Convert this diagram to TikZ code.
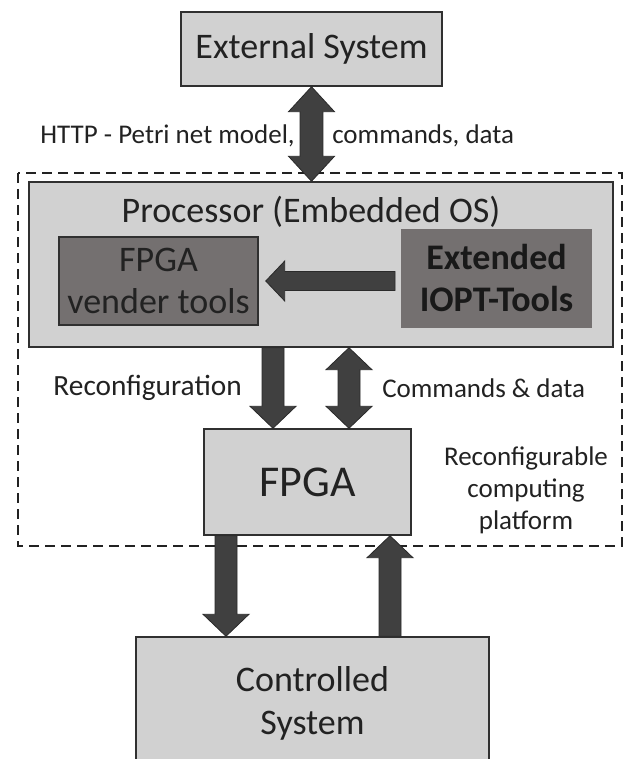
\documentclass[tikz,border=0pt]{standalone}
\usepackage{fontspec}
\setmainfont{Carlito}
\usetikzlibrary{calc}
\definecolor{boxfill}{HTML}{D1D1D1}
\definecolor{darkfill}{HTML}{747070}
\definecolor{arrfill}{HTML}{404040}
\definecolor{arrline}{HTML}{2A2A2A}
\definecolor{edge}{HTML}{303030}
\definecolor{ink}{HTML}{222222}
\newcommand\pxu{0.75pt}
% single block arrow: shaft half width, head half width, head length, from, to
\newcommand\blkarrow[5]{%
  \coordinate (ba-h) at ($(#5)!#3!(#4)$);
  \filldraw[arrowsty] ($(#4)!#1!90:(#5)$) -- ($(ba-h)!#1!90:(#5)$) -- ($(ba-h)!#2!90:(#5)$) -- (#5)
    -- ($(ba-h)!#2!-90:(#5)$) -- ($(ba-h)!#1!-90:(#5)$) -- ($(#4)!#1!-90:(#5)$) -- cycle;}
% double block arrow
\newcommand\dblarrow[5]{%
  \coordinate (da-a) at ($(#4)!#3!(#5)$);
  \coordinate (da-b) at ($(#5)!#3!(#4)$);
  \filldraw[arrowsty] (#4) -- ($(da-a)!#2!90:(#5)$) -- ($(da-a)!#1!90:(#5)$) -- ($(da-b)!#1!90:(#5)$)
    -- ($(da-b)!#2!90:(#5)$) -- (#5) -- ($(da-b)!#2!-90:(#5)$) -- ($(da-b)!#1!-90:(#5)$)
    -- ($(da-a)!#1!-90:(#5)$) -- ($(da-a)!#2!-90:(#5)$) -- cycle;}
\tikzset{
  arrowsty/.style={fill=arrfill, draw=arrline, line width=0.6pt, line join=miter},
  box/.style={draw=edge, fill=boxfill, line width=1.1pt, inner sep=0pt, text=ink, align=center,
    font=\fontsize{27}{31.5}\selectfont},
  darkbox/.style={box, fill=darkfill},
  lbl/.style={inner sep=0pt, text=ink, align=center, font=\fontsize{20.25}{24}\selectfont},
}
\begin{document}
\begin{tikzpicture}[x=0.75pt, y=-0.75pt]
\useasboundingbox (0,0) rectangle (626,759);
\clip (0,0) rectangle (626,759);
\fill[white] (0,0) rectangle (626,759);
% nodes
\node[box, minimum width=261*\pxu, minimum height=74*\pxu] (extsys) at (311.5,49) {External System};
\draw[dashed, dash pattern=on 7.5pt off 4.5pt, line width=1.9pt, draw=ink] (18,173) rectangle (622,546);
\node[box, minimum width=584*\pxu, minimum height=165*\pxu] (proc) at (321,264.5) {};
\node[lbl, font=\fontsize{27}{31.5}\selectfont] (proctitle) at (311,212) {Processor (Embedded OS)};
\node[darkbox, minimum width=199*\pxu, minimum height=88*\pxu] (vend) at (158.5,281) {FPGA\\vender tools};
\node[darkbox, draw=darkfill, minimum width=189*\pxu, minimum height=97*\pxu, font=\fontsize{27}{31.5}\selectfont\bfseries, text=black!90] (iopt) at (496.5,278.5) {Extended\\IOPT-Tools};
\node[box, minimum width=207*\pxu, minimum height=106*\pxu, font=\fontsize{33}{38}\selectfont] (fpga) at (307.5,482) {FPGA};
\node[box, minimum width=353*\pxu, minimum height=133*\pxu, font=\fontsize{27}{32.25}\selectfont] (ctrl) at (312.5,703.5) {Controlled\\System};
% labels
\node[lbl, anchor=east] (l1) at (295,136) {HTTP - Petri net model,};
\node[lbl, anchor=west] (l2) at (332,136) {commands, data};
\node[lbl, anchor=east, font=\fontsize{22}{26}\selectfont] (l3) at (242,388) {Reconfiguration};
\node[lbl, anchor=west] (l4) at (382,388) {Commands \& data};
\node[lbl] (l5) at (526,490) {Reconfigurable\\computing\\platform};
% connector end points
\coordinate (a1) at (extsys.south);
\coordinate (a2) at (proc.north -| extsys.south);
\coordinate (r1) at (273,0 |- proc.south);
\coordinate (r2) at (273,0 |- fpga.north);
\coordinate (c1) at (349,0 |- proc.south);
\coordinate (c2) at (349,0 |- fpga.north);
\coordinate (d1) at (226,0 |- fpga.south);
\coordinate (d2) at (226,0 |- ctrl.north);
\coordinate (u1) at (390,0 |- ctrl.north);
\coordinate (u2) at (390,0 |- fpga.south);
\coordinate (h1) at (395,0 |- vend.east);
\coordinate (h2) at ($(vend.east)+(7,0)$);
% connectors
\dblarrow{8.6pt}{17.25pt}{18.75pt}{a1}{a2}
\blkarrow{7.1pt}{15pt}{14.25pt}{h1}{h2}
\blkarrow{8.25pt}{17.25pt}{16.5pt}{r1}{r2}
\dblarrow{8.25pt}{17.25pt}{16.5pt}{c1}{c2}
\blkarrow{8.25pt}{17.25pt}{16.5pt}{d1}{d2}
\blkarrow{8.25pt}{17.25pt}{16.5pt}{u1}{u2}
\end{tikzpicture}
\end{document}
